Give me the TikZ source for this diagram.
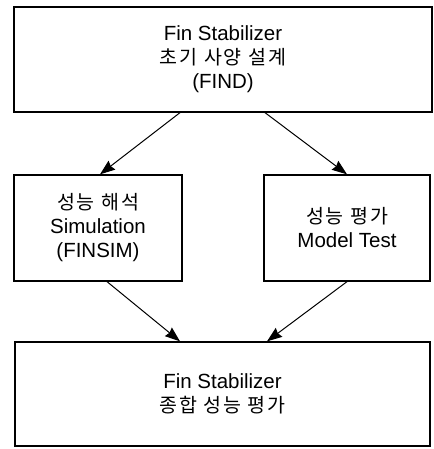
\documentclass[tikz,border=0pt]{standalone}
\usepackage{fontspec}
\setmainfont{Liberation Sans}
\newfontfamily\kr{Noto Sans CJK KR}[LetterSpace=10]
\newcommand{\hgl}[1]{{\kr\fontsize{19.5}{24}\selectfont #1}}
\usetikzlibrary{arrows.meta}

\tikzset{
    block/.style={draw, line width=1.3pt, align=center, inner sep=0pt,
        font=\fontsize{20.5}{24}\selectfont},
    flow/.style={line width=1pt, -{Stealth[length=15pt, width=11pt, inset=1.5pt]}}
}

\begin{document}
\begin{tikzpicture}[x=1pt, y=1pt]
    \useasboundingbox (0,0) rectangle (433,449);

    % design, analysis, test and overall evaluation
    \node[block, minimum width=418pt, minimum height=105pt] (find) at (223,389.5)
        {Fin Stabilizer\\ \hgl{초기 사양 설계}\\ (FIND)};
    \node[block, minimum width=168pt, minimum height=106pt] (finsim) at (98,221)
        {\hgl{성능 해석}\\ Simulation\\ (FINSIM)};
    \node[block, minimum width=166pt, minimum height=106pt] (model) at (347,221)
        {\hgl{성능 평가}\\ Model Test};
    \node[block, minimum width=415pt, minimum height=104pt] (total) at (222.5,55)
        {Fin Stabilizer\\ \hgl{종합 성능 평가}};

    \draw[flow] ([xshift=-43pt]find.south) -- ([xshift=2pt]finsim.north);
    \draw[flow] ([xshift=42pt]find.south)  -- (model.north);
    \draw[flow] ([xshift=9pt]finsim.south) -- ([xshift=-42.5pt]total.north);
    \draw[flow] (model.south) -- ([xshift=44.5pt]total.north);
\end{tikzpicture}
\end{document}
